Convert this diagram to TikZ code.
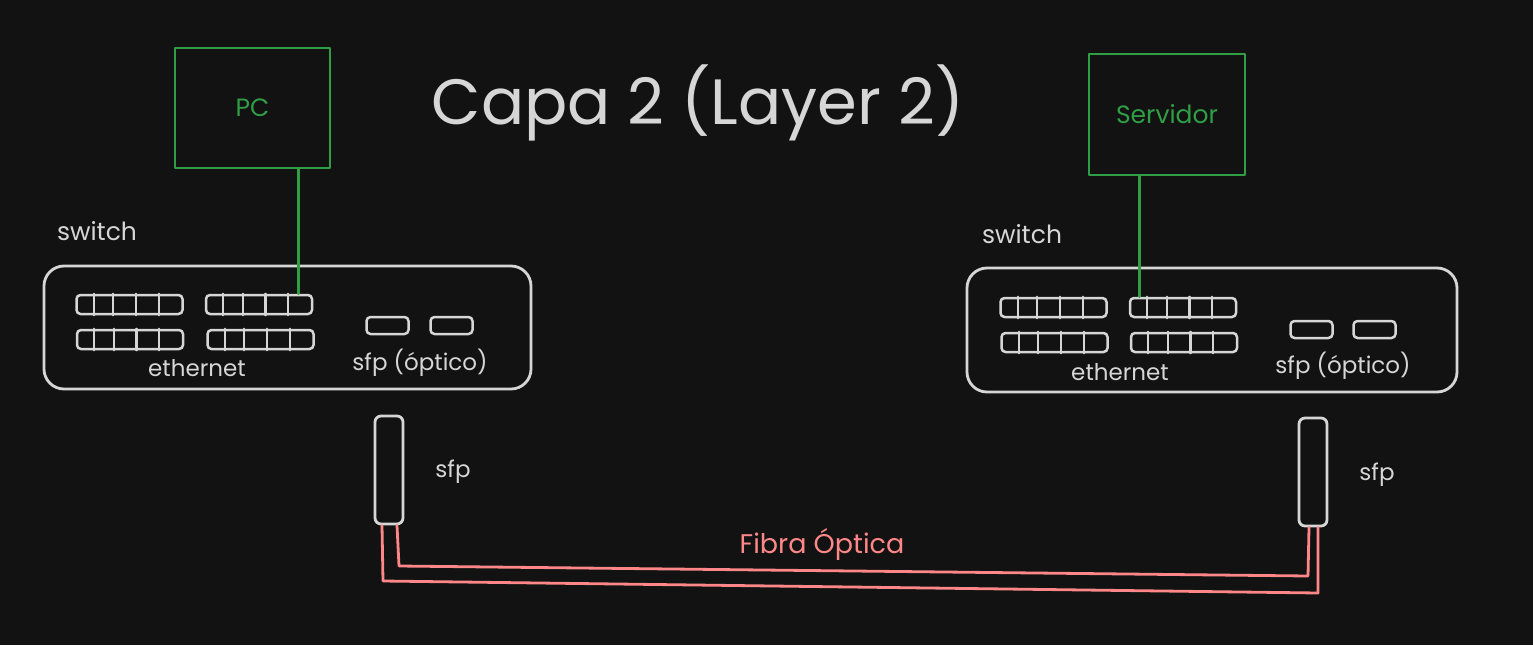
\documentclass[tikz,border=0pt]{standalone}
\usepackage{fontspec}
\setmainfont{Poppins}
\usetikzlibrary{calc}
\definecolor{bgc}{HTML}{121212}
\definecolor{fgc}{HTML}{D6D6D6}
\definecolor{grn}{HTML}{2F9E44}
\definecolor{redc}{HTML}{FF8787}
\newcommand{\fsz}[1]{\fontsize{#1}{#1}\selectfont}
\begin{document}
\begin{tikzpicture}[x=1pt,y=-1pt,line join=round,line cap=round,
  hostbox/.style={draw=grn,line width=2.6pt,inner sep=0pt,text=grn},
  switchbox/.style={draw=fgc,line width=2.8pt,rounded corners=20pt,inner sep=0pt},
  strip/.style={draw=fgc,line width=2.5pt,rounded corners=4pt,inner sep=0pt,minimum width=106pt,minimum height=19pt},
  sfpport/.style={draw=fgc,line width=2.5pt,rounded corners=4pt,inner sep=0pt,minimum width=42pt,minimum height=17pt},
  module/.style={draw=fgc,line width=2.8pt,rounded corners=6pt,inner sep=0pt,minimum width=28pt,minimum height=108pt},
  divider/.style={draw=fgc,line width=2.3pt},
  lbl/.style={text=fgc,inner sep=0pt,font=\fsz{23}},
  link/.style={draw=grn,line width=2.6pt},
  fiber/.style={draw=redc,line width=2.8pt},
]
\fill[bgc] (0,0) rectangle (1533,645);
\useasboundingbox (0,0) rectangle (1533,645);

% title
\node[text=fgc,inner sep=0pt,font=\fsz{64}] (title) at (698,103) {Capa 2 (Layer 2)};

% hosts
\node[hostbox,font=\fsz{25},minimum width=155pt,minimum height=120pt] (pc) at (252.5,108) {PC};
\node[hostbox,font=\fsz{25},minimum width=156pt,minimum height=121pt] (srv) at (1167,114.5) {Servidor};

% switch labels
\node[lbl,font=\fsz{25}] (swl) at (97,231) {switch};
\node[lbl,font=\fsz{25}] (swr) at (1022,234) {switch};

% switches
\node[switchbox,minimum width=487pt,minimum height=123pt] (swL) at (287.5,327.5) {};
\node[switchbox,minimum width=490pt,minimum height=124pt] (swR) at (1212,330) {};

% left switch ports
\node[strip] (L1) at (129.5,304.5) {};
\node[strip] (L2) at (259,304.5) {};
\node[strip] (L3) at (130,339.5) {};
\node[strip] (L4) at (260.5,339.5) {};
% right switch ports
\node[strip] (R1) at (1053.5,307.5) {};
\node[strip] (R2) at (1183,307.5) {};
\node[strip] (R3) at (1054.5,342.5) {};
\node[strip] (R4) at (1184,342.5) {};
\foreach \s in {L1,L2,L3,L4,R1,R2,R3,R4}{
  \foreach \f in {0.17,0.35,0.56,0.77}{
    \draw[divider] ($(\s.north west)!\f!(\s.north east)$) -- ($(\s.south west)!\f!(\s.south east)$);
  }
}
\node[sfpport] (LS1) at (387.5,325.5) {};
\node[sfpport] (LS2) at (451.5,325.5) {};
\node[sfpport] (RS1) at (1311.5,329.5) {};
\node[sfpport] (RS2) at (1374.5,329.5) {};

\node[lbl] (ethL) at (197,368) {ethernet};
\node[lbl] (sfpoL) at (420,363) {sfp (óptico)};
\node[lbl] (ethR) at (1120,372) {ethernet};
\node[lbl] (sfpoR) at (1343,366) {sfp (óptico)};

% green links
\draw[link] (pc.south -| L2.north east) ++(-15,0) coordinate (pcb) -- (pcb |- L2.north);
\draw[link] (srv.south -| R2.north west) ++(11,0) coordinate (srvb) -- (srvb |- R2.north);

% sfp modules
\node[module] (mL) at (389,470) {};
\node[module] (mR) at (1313,472) {};
\node[lbl] (sfpL) at (453,472) {sfp};
\node[lbl] (sfpR) at (1377,475) {sfp};

% fiber
\coordinate (a1) at ($(mL.south)+(-7,0)$);
\coordinate (a2) at ($(mL.south)+(8,0)$);
\coordinate (b1) at ($(mR.south)+(5,0)$);
\coordinate (b2) at ($(mR.south)+(-4,0)$);
\draw[fiber] (a1) -- (383,581) -- (1318,593) -- (b1);
\draw[fiber] (a2) -- (399,566) -- (1308,576) -- (b2);
\node[text=redc,inner sep=0pt,font=\fsz{27}] (fib) at (822,544) {Fibra Óptica};
\end{tikzpicture}
\end{document}
